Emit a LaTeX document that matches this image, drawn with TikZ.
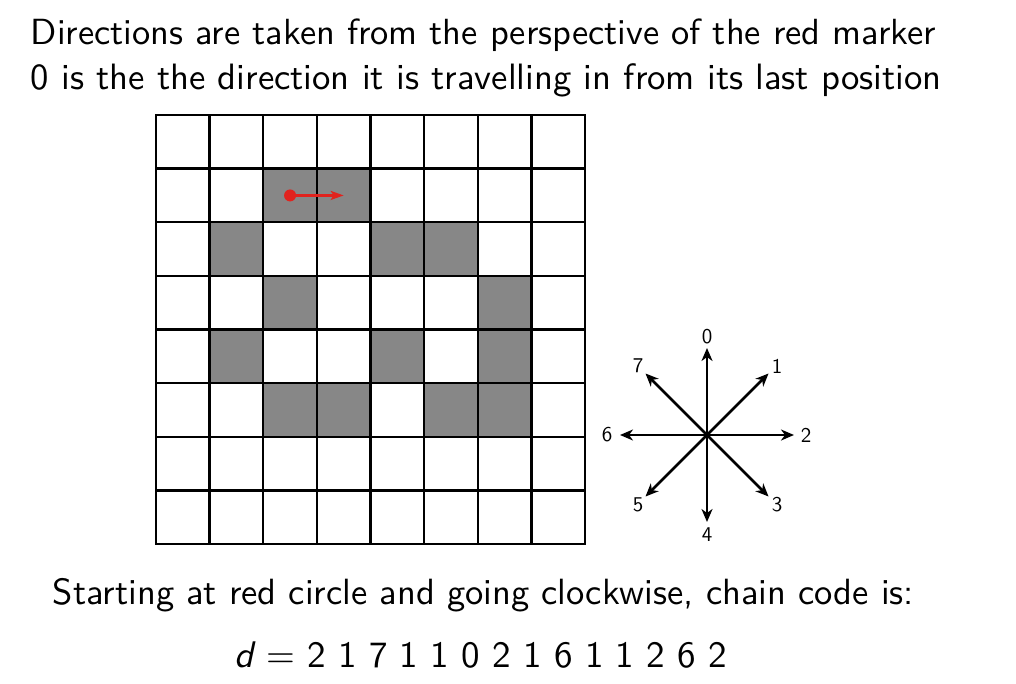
\documentclass[tikz,border=0pt]{standalone}
\usetikzlibrary{arrows.meta,calc}
\definecolor{cellgray}{RGB}{135,135,135}
\definecolor{marker}{RGB}{225,35,30}
\begin{document}
\begin{tikzpicture}[x=1pt,y=-1pt,
  txt/.style={font=\sffamily\fontsize{10}{12}\selectfont, scale=3.65, transform shape, inner sep=0pt},
  lbl/.style={font=\sffamily\fontsize{10}{12}\selectfont, scale=2.1, transform shape, inner sep=0pt},
  comp/.style={line width=2.6pt, -{Stealth[length=13pt,width=11pt,inset=4pt]}},
  gridline/.style={line width=2.3pt, line cap=rect}]
\useasboundingbox[fill=white] (0,0) rectangle (1016,684);
\node[txt, scale=0.997, anchor=base west] (l1) at (30,45) {Directions are taken from the perspective of the red marker};
\node[txt, scale=1.005, anchor=base west] (l2) at (30,90) {0 is the the direction it is travelling in from its last position};
% cells
\def\cs{53.625}
\foreach \c/\r in {2/1,3/1,1/2,4/2,5/2,2/3,6/3,1/4,4/4,6/4,2/5,3/5,5/5,6/5}{
  \fill[cellgray] (156+\c*\cs,115+\r*\cs) rectangle ++(\cs,\cs);
}
\foreach \i in {0,...,8}{
  \draw[gridline] (156+\i*\cs,115) -- (156+\i*\cs,544);
  \draw[gridline] (156,115+\i*\cs) -- (585,115+\i*\cs);
}
% marker
\node[circle, fill=marker, inner sep=0pt, minimum size=12pt] (m) at (156+2.5*\cs,115+1.5*\cs) {};
\coordinate (mend) at (156+3.5*\cs,115+1.5*\cs);
\draw[marker, line width=2.2pt, -{Stealth[length=13pt,width=9pt,inset=3pt]}] (m.center) -- (mend);
% compass
\coordinate (c) at (707,435);
\foreach \k/\a in {0/90,1/45,2/0,3/-45,4/-90,5/-135,6/180,7/135}{
  \coordinate (d\k) at ($(c)+(\a:87)$);
}
\foreach \k in {0,...,7}{ \draw[comp] (c) -- (d\k); }
\node[lbl] (n0) at (707,337) {0};
\node[lbl] (n1) at (777,366) {1};
\node[lbl] (n2) at (806,435) {2};
\node[lbl] (n3) at (777,505) {3};
\node[lbl] (n4) at (707,535) {4};
\node[lbl] (n5) at (638,505) {5};
\node[lbl] (n6) at (607,435) {6};
\node[lbl] (n7) at (638,366) {7};
% bottom
\node[txt, anchor=base west] (s) at (52,604) {Starting at red circle and going clockwise, chain code is:};
\node[txt, scale=1.015, anchor=base west] (d) at (234,667) {{\itshape d} = 2 1 7 1 1 0 2 1 6 1 1 2 6 2};
\end{tikzpicture}
\end{document}
